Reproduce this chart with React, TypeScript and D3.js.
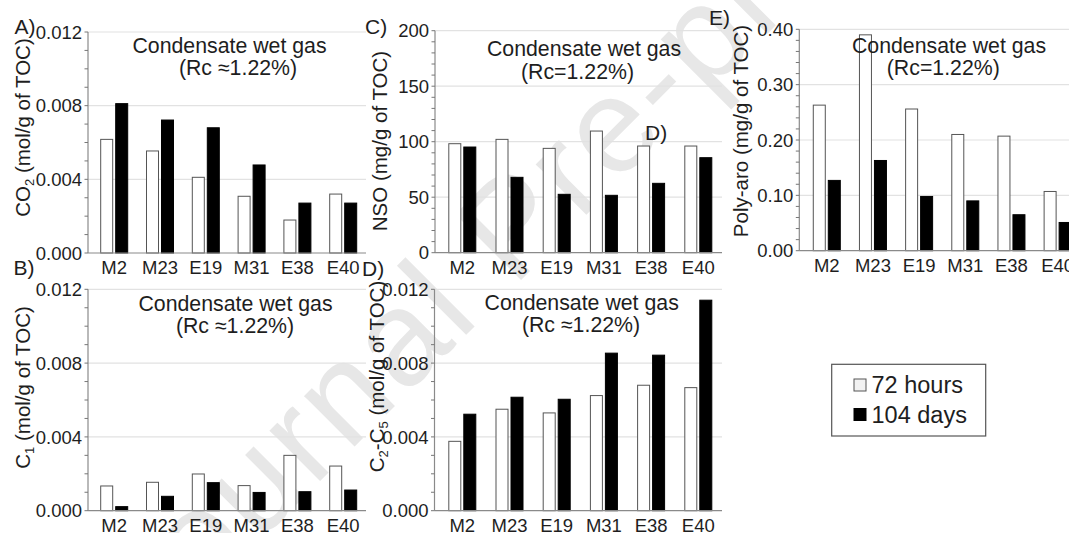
import React from 'react';
import * as d3 from 'd3';

const categories = ['M2', 'M23', 'E19', 'M31', 'E38', 'E40'];
const seriesNames = ['72 hours', '104 days'];

const co2_72h = [0.00617, 0.00554, 0.00411, 0.00308, 0.00179, 0.0032];
const co2_104d = [0.00811, 0.00722, 0.0068, 0.00478, 0.00271, 0.00271];
const c1_72h = [0.00134, 0.00154, 0.00199, 0.00136, 0.003, 0.00242];
const c1_104d = [0.00022, 0.00078, 0.00152, 0.00099, 0.00103, 0.00112];
const nso_72h = [98.2, 102.1, 94, 109.6, 96.1, 96.1];
const nso_104d = [95.2, 67.9, 52.6, 51.7, 62.5, 85.6];
const c2c5_72h = [0.00376, 0.0055, 0.0053, 0.00624, 0.0068, 0.00667];
const c2c5_104d = [0.00523, 0.00615, 0.00604, 0.00854, 0.00843, 0.01141];
const polyaro_72h = [0.263, 0.39, 0.256, 0.21, 0.207, 0.107];
const polyaro_104d = [0.127, 0.163, 0.098, 0.09, 0.065, 0.051];

const ticksMol = [0, 0.004, 0.008, 0.012];
const ticksNSO = [0, 50, 100, 150, 200];
const ticksPoly = [0, 0.1, 0.2, 0.3, 0.4];

const FONT = "'Liberation Sans', Arial, Helvetica, sans-serif";
const TXT = '#1e1e1e';

type PanelProps = {
  axisX: number;
  bandRange: [number, number];
  gridRight: number;
  yTop: number;
  yBot: number;
  max: number;
  ticks: number[];
  minorStep: number;
  fmt: string;
  v72: number[];
  v104: number[];
  title1: string;
  title1X: number;
  title1Y: number;
  title2: string;
  title2X: number;
  title2Y: number;
  yLabel: React.ReactNode;
  yLabelX: number;
  yLabelY: number;
};

function Panel(p: PanelProps) {
  const y = d3.scaleLinear().domain([0, p.max]).range([p.yBot, p.yTop]);
  const x = d3.scaleBand<string>().domain(categories).range(p.bandRange).paddingInner(0).paddingOuter(0);
  const xs = d3.scaleBand<string>().domain(seriesNames).range([-13.5, 13.5]).paddingInner(0.2);
  const format = d3.format(p.fmt);
  const nMinor = Math.round(p.max / p.minorStep);
  const minor = d3.range(0, nMinor + 1).map((i) => i * p.minorStep);
  const vals = [p.v72, p.v104];
  return (
    <g>
      {p.ticks.slice(1).map((t) => (
        <line key={'g' + t} x1={p.axisX} x2={p.gridRight} y1={y(t)} y2={y(t)} stroke="#e2e2e2" strokeWidth={1.2} />
      ))}
      {categories.map((c, i) =>
        seriesNames.map((s, k) => {
          const cx = (x(c) as number) + x.bandwidth() / 2;
          const v = vals[k][i];
          const bx = cx + (xs(s) as number);
          return (
            <rect
              key={c + s}
              x={bx}
              y={y(v)}
              width={xs.bandwidth()}
              height={p.yBot - y(v)}
              fill={k === 0 ? '#ffffff' : '#000000'}
              stroke={k === 0 ? '#555' : '#000'}
              strokeWidth={1}
            />
          );
        })
      )}
      <line x1={p.axisX} x2={p.gridRight} y1={p.yBot} y2={p.yBot} stroke="#8a8a8a" strokeWidth={1.2} />
      <line x1={p.axisX} x2={p.axisX} y1={p.yTop} y2={p.yBot} stroke="#8a8a8a" strokeWidth={1.2} />
      {minor.map((t) => (
        <line key={'m' + t} x1={p.axisX - 3.5} x2={p.axisX} y1={y(t)} y2={y(t)} stroke="#777" strokeWidth={1} />
      ))}
      {p.ticks.map((t) => (
        <text
          key={'t' + t}
          x={p.axisX - 6}
          y={y(t)}
          dy="0.36em"
          textAnchor="end"
          fontSize={18.5}
          fill={TXT}
        >
          {format(t)}
        </text>
      ))}
      {categories.map((c) => (
        <text
          key={'c' + c}
          x={(x(c) as number) + x.bandwidth() / 2}
          y={p.yBot + 21}
          textAnchor="middle"
          fontSize={18.5}
          fill={TXT}
        >
          {c}
        </text>
      ))}
      <text x={p.title1X} y={p.title1Y} dy="0.36em" textAnchor="middle" fontSize={21.3} fill={TXT}>
        {p.title1}
      </text>
      <text x={p.title2X} y={p.title2Y} dy="0.36em" textAnchor="middle" fontSize={21.3} fill={TXT}>
        {p.title2}
      </text>
      <text
        transform={`translate(${p.yLabelX},${p.yLabelY}) rotate(-90)`}
        textAnchor="middle"
        dy="0.36em"
        fontSize={20.5}
        fill={TXT}
      >
        {p.yLabel}
      </text>
    </g>
  );
}

const sub = (s: string) => (
  <tspan fontSize={13} dy={4}>
    {s}
  </tspan>
);

export default function App() {
  return (
    <svg
      width={1069}
      height={533}
      style={{ position: 'absolute', left: 0, top: 0, background: '#fff' }}
      fontFamily={FONT}
    >
      <rect x={0} y={0} width={1069} height={533} fill="#fff" />
      <text
        transform="translate(151,650) rotate(-45)"
        fontSize={135}
        letterSpacing={4}
        fill="#e7e7e7"
      >
        Journal Pre-proof
      </text>

      <Panel
        axisX={88}
        bandRange={[91.3, 366.1]}
        gridRight={366}
        yTop={32}
        yBot={253}
        max={0.012}
        ticks={ticksMol}
        minorStep={0.001}
        fmt=".3f"
        v72={co2_72h}
        v104={co2_104d}
        title1="Condensate wet gas"
        title1X={229.5}
        title1Y={45}
        title2="(Rc ≈1.22%)"
        title2X={238}
        title2Y={67}
        yLabel={
          <>
            <tspan>CO</tspan>
            {sub('2')}
            <tspan dy={-4}> (mol/g of TOC)</tspan>
          </>
        }
        yLabelX={23}
        yLabelY={127.5}
      />
      <Panel
        axisX={88}
        bandRange={[91.3, 366.1]}
        gridRight={366}
        yTop={289.3}
        yBot={510.7}
        max={0.012}
        ticks={ticksMol}
        minorStep={0.001}
        fmt=".3f"
        v72={c1_72h}
        v104={c1_104d}
        title1="Condensate wet gas"
        title1X={235.5}
        title1Y={303.5}
        title2="(Rc ≈1.22%)"
        title2X={235}
        title2Y={325}
        yLabel={
          <>
            <tspan>C</tspan>
            {sub('1')}
            <tspan dy={-4}> (mol/g of TOC)</tspan>
          </>
        }
        yLabelX={23}
        yLabelY={387.5}
      />
      <Panel
        axisX={435}
        bandRange={[438.7, 721.9]}
        gridRight={722}
        yTop={30.7}
        yBot={252.7}
        max={200}
        ticks={ticksNSO}
        minorStep={10}
        fmt="d"
        v72={nso_72h}
        v104={nso_104d}
        title1="Condensate wet gas"
        title1X={584}
        title1Y={48}
        title2="(Rc=1.22%)"
        title2X={577.5}
        title2Y={71.5}
        yLabel="NSO (mg/g of TOC)"
        yLabelX={380}
        yLabelY={141}
      />
      <Panel
        axisX={434.5}
        bandRange={[438.7, 721.9]}
        gridRight={722}
        yTop={289.3}
        yBot={510.7}
        max={0.012}
        ticks={ticksMol}
        minorStep={0.001}
        fmt=".3f"
        v72={c2c5_72h}
        v104={c2c5_104d}
        title1="Condensate wet gas"
        title1X={581.7}
        title1Y={302.5}
        title2="(Rc ≈1.22%)"
        title2X={581}
        title2Y={324}
        yLabel={
          <>
            <tspan>C</tspan>
            {sub('2')}
            <tspan dy={-4}>-C</tspan>
            {sub('5')}
            <tspan dy={-4}> (mol/g of TOC)</tspan>
          </>
        }
        yLabelX={376.7}
        yLabelY={376.5}
      />
      <Panel
        axisX={799.3}
        bandRange={[803.7, 1080.7]}
        gridRight={1069}
        yTop={29.3}
        yBot={250.7}
        max={0.4}
        ticks={ticksPoly}
        minorStep={0.02}
        fmt=".2f"
        v72={polyaro_72h}
        v104={polyaro_104d}
        title1="Condensate wet gas"
        title1X={949}
        title1Y={45}
        title2="(Rc=1.22%)"
        title2X={943.3}
        title2Y={67}
        yLabel="Poly-aro (mg/g of TOC)"
        yLabelX={741}
        yLabelY={131}
      />

      <g fontSize={21} fill={TXT}>
        <text x={14.5} y={33.5}>A)</text>
        <text x={13.5} y={275}>B)</text>
        <text x={365} y={33.5}>C)</text>
        <text x={362} y={276}>D)</text>
        <text x={645} y={140}>D)</text>
        <text x={709} y={25}>E)</text>
      </g>

      <g>
        <rect x={831.7} y={364.3} width={154} height={71.7} fill="#fff" stroke="#555" strokeWidth={1.2} />
        {seriesNames.map((s, k) => (
          <g key={s}>
            <rect
              x={854}
              y={379 + k * 29.5}
              width={12}
              height={12}
              fill={k === 0 ? '#f2f2f2' : '#000'}
              stroke={k === 0 ? '#555' : '#000'}
              strokeWidth={1}
            />
            <text x={871.5} y={385 + k * 29.5} dy="0.36em" fontSize={23.5} fill={TXT}>
              {s}
            </text>
          </g>
        ))}
      </g>
    </svg>
  );
}
